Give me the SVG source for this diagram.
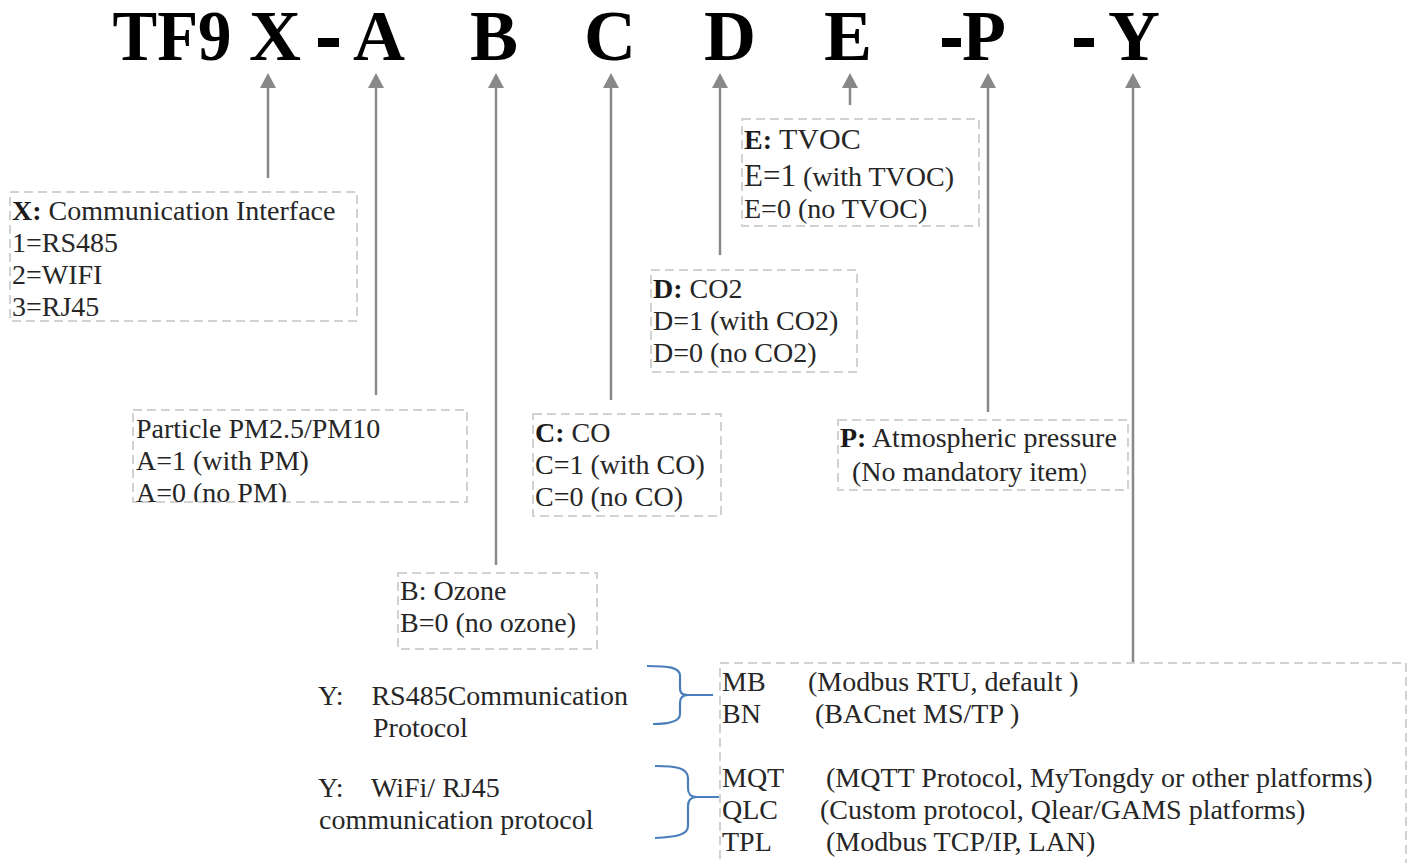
<svg xmlns="http://www.w3.org/2000/svg" width="1411" height="863" viewBox="0 0 1411 863">
<style>
.hdr{font-family:"Liberation Serif","Times New Roman",serif;font-weight:bold;font-size:72px;fill:#000;text-anchor:middle}
.t{font-family:"Liberation Serif","Times New Roman",serif;font-size:28px;fill:#262626}
.b{font-weight:bold;fill:#1a1a1a}
.box{fill:none;stroke:#d2d2d2;stroke-width:2;stroke-dasharray:9 5}
.arr{stroke:#888;stroke-width:2.5;fill:none}
.head{fill:#888}
.brace{stroke:#4a7ebb;stroke-width:2.2;fill:none}
</style>
<defs>
<clipPath id="clipA"><rect x="133" y="410" width="334" height="92"/></clipPath>
<path id="ah" d="M0 -15 L8 0 L-8 0 Z"/>
</defs>
<rect width="1411" height="863" fill="#fff"/>
<g id="header">
<text class="hdr" x="172" y="60" transform="translate(172 0) scale(0.93 1) translate(-172 0)">TF9</text>
<text class="hdr" x="275" y="60">X</text>
<rect x="318" y="38" width="21" height="9" fill="#000"/>
<text class="hdr" x="379" y="60">A</text>
<text class="hdr" x="494" y="60">B</text>
<text class="hdr" x="610" y="60">C</text>
<text class="hdr" x="730" y="60">D</text>
<text class="hdr" x="848" y="60">E</text>
<rect x="942" y="38" width="19" height="9" fill="#000"/>
<text class="hdr" x="984" y="60">P</text>
<rect x="1074" y="38" width="20" height="9" fill="#000"/>
<text class="hdr" x="1134" y="60">Y</text>
</g>
<g id="connectors">
<line class="arr" x1="268" y1="178" x2="268" y2="87"/>
<use href="#ah" class="head" x="268" y="88"/>
<line class="arr" x1="376" y1="395" x2="376" y2="87"/>
<use href="#ah" class="head" x="376" y="88"/>
<line class="arr" x1="496" y1="565" x2="496" y2="87"/>
<use href="#ah" class="head" x="496" y="88"/>
<line class="arr" x1="611" y1="400" x2="611" y2="87"/>
<use href="#ah" class="head" x="611" y="88"/>
<line class="arr" x1="720" y1="255" x2="720" y2="87"/>
<use href="#ah" class="head" x="720" y="88"/>
<line class="arr" x1="850" y1="105" x2="850" y2="87"/>
<use href="#ah" class="head" x="850" y="88"/>
<line class="arr" x1="988" y1="412" x2="988" y2="87"/>
<use href="#ah" class="head" x="988" y="88"/>
<line class="arr" x1="1133" y1="663" x2="1133" y2="87"/>
<use href="#ah" class="head" x="1133" y="88"/>
<path class="brace" d="M647 666 C668 666 680 667 680 676 L680 688 C680 694 683 695 688 695 L713 695 M688 695 C683 695 680 697 680 703 L680 714 C680 722 668 724 653 724"/>
<path class="brace" d="M655 766 C676 766 688 768 688 778 L688 788 C688 795 691 797 697 797 L721 797 M697 797 C691 797 688 800 688 806 L688 826 C688 835 676 837 655 838"/>
</g>
<g id="nodeX">
<rect class="box" x="10" y="192" width="347" height="129"/>
<text class="t" x="12" y="220"><tspan class="b">X:</tspan> Communication Interface</text>
<text class="t" x="12" y="252">1=RS485</text>
<text class="t" x="12" y="284">2=WIFI</text>
<text class="t" x="12" y="316">3=RJ45</text>
</g>
<g id="nodeA">
<rect class="box" x="133" y="410" width="334" height="92"/>
<g clip-path="url(#clipA)">
<text class="t" x="136" y="438">Particle PM2.5/PM10</text>
<text class="t" x="136" y="470">A=1 (with PM)</text>
<text class="t" x="136" y="502">A=0 (no PM)</text>
</g>
</g>
<g id="nodeB">
<rect class="box" x="398" y="573" width="199" height="76"/>
<text class="t" x="400" y="600">B: Ozone</text>
<text class="t" x="400" y="632">B=0 (no ozone)</text>
</g>
<g id="nodeC">
<rect class="box" x="533" y="414" width="188" height="102"/>
<text class="t" x="535" y="442"><tspan class="b">C:</tspan> CO</text>
<text class="t" x="535" y="474">C=1 (with CO)</text>
<text class="t" x="535" y="506">C=0 (no CO)</text>
</g>
<g id="nodeD">
<rect class="box" x="651" y="270" width="206" height="102"/>
<text class="t" x="653" y="298"><tspan class="b">D:</tspan> CO2</text>
<text class="t" x="653" y="330">D=1 (with CO2)</text>
<text class="t" x="653" y="362">D=0 (no CO2)</text>
</g>
<g id="nodeE">
<rect class="box" x="742" y="119" width="237" height="107"/>
<text class="t" x="744" y="149"><tspan class="b">E:</tspan> <tspan font-size="30">TVOC</tspan></text>
<text class="t" x="744" y="186"><tspan font-size="31">E=1</tspan> (with TVOC)</text>
<text class="t" x="744" y="218">E=0 (no TVOC)</text>
</g>
<g id="nodeP">
<rect class="box" x="838" y="420" width="290" height="70"/>
<text class="t" x="840" y="447"><tspan class="b">P:</tspan> Atmospheric pressure</text>
<text class="t" x="852" y="481">(No mandatory item<tspan font-family="Noto Sans CJK SC, sans-serif" font-size="22">）</tspan></text>
</g>
<g id="nodeYlabels">
<text class="t" x="318" y="705" xml:space="preserve">Y:    RS485Communication</text>
<text class="t" x="373" y="737">Protocol</text>
<text class="t" x="318" y="797" xml:space="preserve">Y:    WiFi/ RJ45</text>
<text class="t" x="319" y="829">communication protocol</text>
</g>
<g id="nodeY">
<rect class="box" x="720" y="663" width="686" height="210"/>
<text class="t" x="722" y="691">MB</text>
<text class="t" x="808" y="691">(Modbus RTU, default )</text>
<text class="t" x="722" y="723">BN</text>
<text class="t" x="815" y="723">(BACnet MS/TP )</text>
<text class="t" x="722" y="787">MQT</text>
<text class="t" x="826" y="787">(MQTT Protocol, MyTongdy or other platforms)</text>
<text class="t" x="722" y="819">QLC</text>
<text class="t" x="820" y="819">(Custom protocol, Qlear/GAMS platforms)</text>
<text class="t" x="722" y="851">TPL</text>
<text class="t" x="826" y="851">(Modbus TCP/IP, LAN)</text>
</g>
</svg>
